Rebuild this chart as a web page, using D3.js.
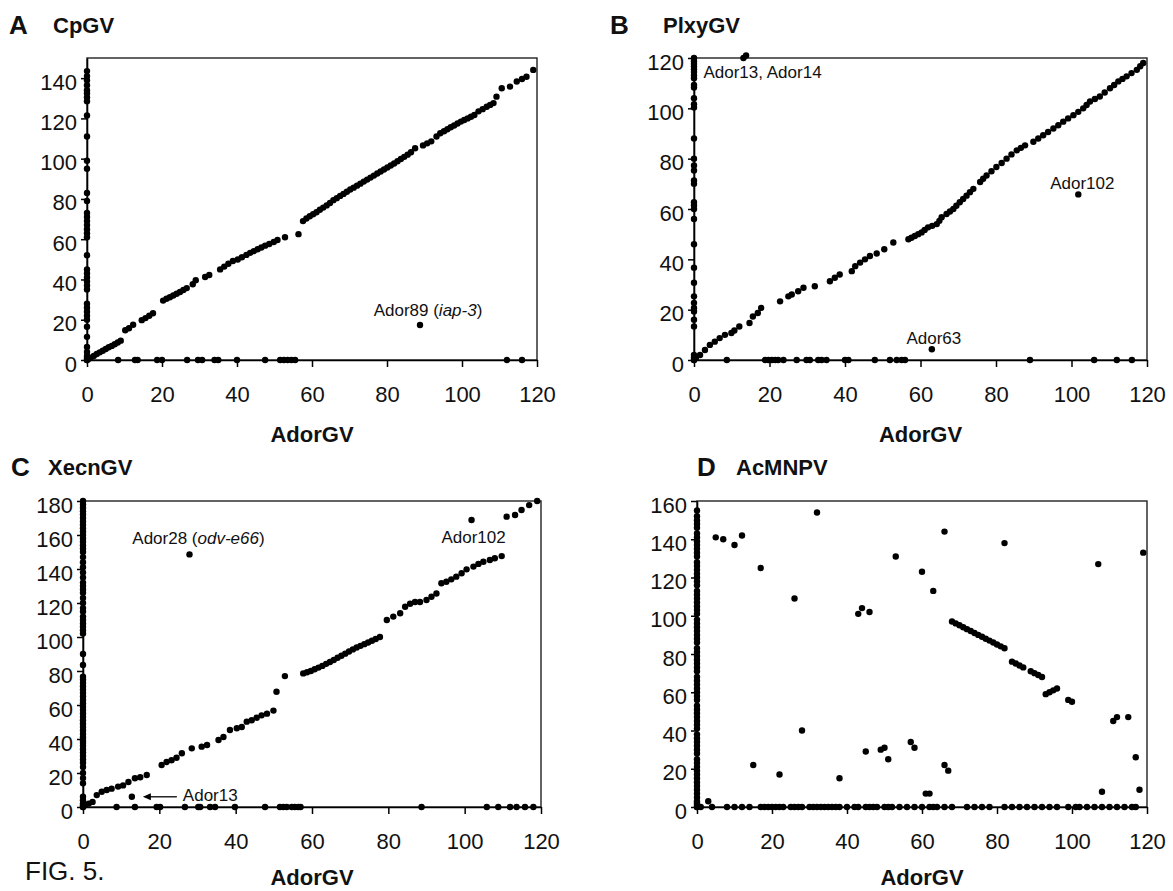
<!DOCTYPE html>
<html><head><meta charset="utf-8">
<script src="https://cdn.jsdelivr.net/npm/d3@7"></script>
<style>
body{margin:0;background:#fff}
text{font-family:"Liberation Sans",Arial,Helvetica,sans-serif;fill:#111}
</style>
</head><body>
<svg id="chart" width="1173" height="891"></svg>
<script>
// ---------- DATA ----------
const xTicks = [0, 20, 40, 60, 80, 100, 120];
const cpgvTicks = [0, 20, 40, 60, 80, 100, 120, 140];
const plxyTicks = [0, 20, 40, 60, 80, 100, 120];
const xecnTicks = [0, 20, 40, 60, 80, 100, 120, 140, 160, 180];
const acmnpvTicks = [0, 20, 40, 60, 80, 100, 120, 140, 160];

// Panel A: CpGV
const cpgvOnYAxis = [0, 1, 2, 4, 6.5, 11.5, 16.5, 20, 22, 24, 26, 28, 35, 37, 39, 41, 43, 45, 52, 61, 63, 65, 67, 69, 71, 73, 79, 83, 95, 99, 111, 121.5, 128.5, 130.5, 132.5, 134, 136.5, 139, 141, 143.5];
const cpgvOnXAxis = [0, 8.3, 12.8, 13.5, 18.7, 20, 26.7, 29.6, 30.7, 34, 35, 40, 47.5, 51.5, 52.5, 53.5, 54.5, 55.5, 112, 116];
const cpgvColinear = [[0.4,0.5],[1,1.2],[1.8,2],[2.6,3],[3.4,3.8],[4.2,4.6],[5,5.5],[5.8,6.3],[6.6,7],[7.4,7.8],[8.2,8.7],[9,9.6],
[10.2,14.8],[11.2,15.8],[12.3,17.5],[14.6,19.8],[15.6,20.8],[16.6,22],[17.6,23.2],
[20.3,29.5],[21.2,30.4],[22.1,31.2],[23,32],[23.9,32.9],[24.8,33.8],[25.7,34.8],[26.6,35.7],
[28.2,37.6],[29,39.6],[31.5,41.2],[32.6,42.2],[35.5,45],[36.6,46.4],[37.7,47.8],[38.9,49.2],[40.2,49.9],[41.3,51],[42.5,52.2],[43.5,53.2],[44.5,54.1],[45.5,55],[46.5,55.9],[47.5,56.8],[48.6,57.6],[49.8,58.6],[50.8,59.6],[52.8,61],[56.4,62.5],
[57.6,69],[58.5,70.3],[59.4,71.4],[60.3,72.4],[61.2,73.4],[62.1,74.6],[63,75.7],[63.9,76.8],[64.8,78],[65.7,79.4],[66.6,80.4],[67.5,81.5],[68.4,82.5],[69.3,83.6],[70.2,84.7],[71.1,85.6],[72,86.6],[72.9,87.6],[73.8,88.6],[74.7,89.6],[75.6,90.6],[76.5,91.6],[77.4,92.6],[78.3,93.6],[79.2,94.6],[80.1,95.6],[81,96.6],[81.9,97.6],[82.8,98.7],[83.7,99.8],[84.6,100.9],[85.5,102],[86.4,103.2],[87.5,105.2],
[89.6,106.6],[90.7,107.6],[91.8,108.6],[93.2,111],[94.2,112.6],[95.2,113.6],[96.1,114.6],[97,115.6],[97.9,116.5],[98.8,117.5],[99.7,118.4],[100.6,119.2],[101.5,120],[102.4,120.8],[103.3,121.7],[104.4,123.5],[105.5,124.6],[106.6,125.8],[107.5,126.7],[108.4,127.6],
[109.2,130.8],[110.6,135],[112.8,135.8],[114.6,138.3],[116,139.6],[117.2,140.7],[119,144.1]];
const cpgvOutliers = [[88.8, 17.4]];

// Panel B: PlxyGV
const plxyOnYAxis = [0, 1, 2, 13.3, 16, 19.3, 20.7, 22.7, 25.3, 30.7, 36.7, 46, 56, 60, 61.5, 62.7, 70, 71.3, 75.3, 77.3, 80, 88, 100.3, 101.6, 104, 108.3, 109.3, 112, 113, 114.4, 115.5, 116.7, 117.7, 118.7, 120];
const plxyOnXAxis = [0, 8.7, 18.8, 19.7, 20.6, 21.5, 22.3, 23.7, 27.2, 29.8, 30.7, 32.9, 33.8, 35.1, 40, 40.9, 47.9, 51.9, 53.7, 55, 55.9, 89, 106, 112, 116];
const plxyColinear = [[0.5,0.8],[1.6,2],[2.9,4],[4.2,6],[5.5,7.3],[6.8,8.7],[8.2,10],[9.9,10.7],[10.7,11.7],[12,13.3],[14.7,14.7],[15.6,17.3],[16.9,18.7],[17.8,20.7],[22.8,23.3],[25,25.3],[25.9,26],[27.6,27.3],[29,28.7],[32,29.3],[36,31.3],[37.3,32.7],[38.6,34],[41.8,35.3],[42.7,37.3],[44,38.7],[45.3,40],[46.6,41.3],[48.4,42.3],[50.4,44],[52.8,46.7],
[56.8,48],[57.6,48.6],[58.5,49.3],[59.4,50],[60.3,50.7],[61.1,51.7],[62,52.7],[63.1,53.3],[64.3,54],[65,55.3],[65.6,56.7],[66.9,58],[67.8,59],[68.7,60],[69.5,61.3],[70.4,62.7],[71.3,64],[72.2,65.3],[73.1,66.7],[74,68],[75.8,70.7],[76.6,72],[77.5,73.3],[78.8,75],[80.1,76.7],[81.5,78.3],[82.8,80],[84.1,81.7],[85.5,83.3],[86.6,84.3],[87.7,85.3],[89.9,86.7],[91.2,88],[92.5,89.3],[93.8,90.6],[95.2,92],[96.5,93.3],[97.8,94.7],[99.1,96],[100.5,97.3],[101.8,98.6],[103.1,100],[104,101.3],[104.9,102.7],[106.2,103.7],[107.5,104.7],[108.8,106.3],[110.2,108],[111.3,109.3],[112.4,110.7],[113.5,111.7],[114.6,112.7],[115.9,114],[117.3,115.3],[118.2,116.7],[119,118]];
const plxyOutliers = [[13.1, 120], [13.8, 121], [101.8, 65.8], [63, 4.3]];

// Panel C: XecnGV
const xecnOnYAxis = [0, 1, 2, 4, 6, 14, 17, 20, 23.5, 26, 28, 30, 32, 34, 36, 37.6, 39, 41, 43, 45, 47, 49, 51, 53, 55, 57, 59, 61, 63, 65, 67, 69, 71, 73, 75, 76.6, 83.5, 90, 102, 104, 106, 108, 110, 112, 115, 117, 120, 123, 126, 128, 130, 132, 135, 138, 141, 144, 147, 150, 152, 154, 156, 158, 160, 162, 164, 166, 168, 170, 172, 174, 176, 178, 180];
const xecnOnXAxis = [0, 8.8, 13.6, 19.3, 20.2, 26.7, 30.2, 30.7, 33.3, 34.6, 39.8, 47.7, 51.6, 52.5, 53.4, 54.7, 55.5, 56.4, 57, 88.7, 105.8, 108.8, 111.9, 113.6, 115.8, 118];
const xecnColinear = [[0.5,1],[1.5,2],[2.5,3],[3.6,7],[4.9,9],[6.2,10],[7.5,10.8],[9.2,12],[10.5,12.7],[11.9,14.7],[13.6,16.9],[15,17.5],[16.7,18.8],[20.6,24.7],[21.9,26.5],[23.2,27.5],[24.5,29],[25.9,31.6],[28.5,34.5],[31.1,35.5],[32.5,36.5],[35.5,39.4],[36.8,41.2],[38.5,45.3],[40.3,46.3],[41.6,47.1],[42.9,50.2],[44.2,51],[45.5,52.5],[46.8,53.9],[48.2,54.9],[49.9,56.7],[50.7,67.8],[52.9,77],
[57.7,78.6],[58.7,79.3],[59.7,80],[60.7,81],[61.7,82],[62.7,83],[63.7,84.2],[64.7,85.3],[65.7,86.5],[66.7,87.8],[67.7,89],[68.7,90.2],[69.7,91.5],[70.7,92.7],[71.7,93.8],[72.7,94.8],[73.7,95.8],[74.7,96.8],[75.7,97.8],[76.7,98.8],[77.8,100],
[79.6,110],[81.3,112],[83.1,114],[84.4,117.8],[85.7,119.6],[87,120.6],[88.3,120.6],[90,121.8],[91.3,123.7],[92.6,125.6],[93.9,131.6],[95.2,132.5],[96.5,133.9],[97.8,135.5],[99.2,137.5],[100.5,139.8],[102.3,141.4],[103.6,143],[104.9,144.3],[106.6,145.3],[107.9,146.3],[109.7,147.6],
[111,170.8],[113.2,171.8],[114.9,174.7],[116.9,177.6],[119,180]];
const xecnOutliers = [[27.9, 148.6], [101.8, 168.8], [12.8, 6]];

// Panel D: AcMNPV
const acmnpvOnYAxis = [0, 1, 2, 3, 5, 7, 9, 11, 13, 15, 17, 19, 21, 23, 25, 28, 30, 32, 34, 36, 38, 41, 43, 45, 47, 49, 51, 53, 56, 58, 60, 62, 64, 66, 68, 71, 73, 75, 77, 79, 81, 83, 86, 88, 90, 92, 94, 96, 98, 101, 103, 105, 107, 109, 111, 113, 116, 118, 120, 122, 124, 126, 128, 131, 133, 135, 137, 139, 141, 143, 146, 148, 150, 152, 155];
const acmnpvOnXAxis = [0, 1, 4, 8, 10, 12, 14, 17, 18, 19, 20, 21, 22, 23, 25, 26, 27, 28, 30, 31, 32, 33, 34, 35, 36, 37, 38, 40, 42, 43, 45, 46, 47, 48, 50, 51, 52, 54, 56, 58, 60, 62, 63, 64, 66, 68, 72, 74, 76, 78, 82, 84, 86, 88, 90, 92, 94, 96, 99, 101, 102, 104, 106, 108, 110, 112, 114, 116, 117];
const acmnpvScatter = [[3,3],[5,141],[7,140],[10,137],[12,142],[15,22],[17,125],[22,17],[26,109],[28,40],[32,154],[38,15],[43,101],[44,104],[46,102],[45,29],[49,30],[50,31],[51,25],[53,131],[57,34],[58,31],[60,123],[61,7],[62,7],[63,113],[66,144],[66,22],[67,19],[82,138],[107,127],[108,8],[111,45],[112,47],[115,47],[117,26],[118,9],[119,133],
[68,97],[69,96],[70,95],[71,94],[72,93],[73,92],[74,91],[75,90],[76,89],[77,88],[78,87],[79,86],[80,85],[81,84],[82,83],[84,76],[85,75],[86,74],[87,73],[89,71],[90,70],[91,69],[92,68],[93,59],[94,60],[95,61],[96,62],[99,56],[100,55]];

// ---------- LAYOUT ----------
const svg = d3.select("#chart");
const FONT = '"Liberation Sans",Arial,Helvetica,sans-serif';

function drawPanel(cfg) {
  const x = d3.scaleLinear().domain([0, 120]).range([cfg.left, cfg.right]);
  const y = d3.scaleLinear().domain([0, cfg.yMax]).range([cfg.bottom, cfg.top]);
  const g = svg.append("g");

  g.append("rect")
    .attr("x", cfg.left).attr("y", cfg.top)
    .attr("width", cfg.right - cfg.left).attr("height", cfg.bottom - cfg.top)
    .attr("fill", "none").attr("stroke", "#222").attr("stroke-width", 1.4);

  const xa = g.append("g").attr("transform", `translate(0,${cfg.bottom})`)
    .call(d3.axisBottom(x).tickValues(xTicks).tickSize(7).tickSizeOuter(0).tickPadding(19));
  const ya = g.append("g").attr("transform", `translate(${cfg.left},0)`)
    .call(d3.axisLeft(y).tickValues(cfg.yTicks).tickSize(6).tickSizeOuter(0).tickPadding(4));
  [xa, ya].forEach(a => {
    a.select(".domain").attr("stroke", "#000").attr("stroke-width", 1.6);
    a.selectAll(".tick line").attr("stroke", "#000").attr("stroke-width", 1.5);
    a.selectAll(".tick text").attr("font-size", 22).attr("font-family", FONT).attr("fill", "#111");
  });
  ya.selectAll(".tick text").attr("dy", "0.5em");

  const pts = [];
  cfg.onY.forEach(v => pts.push([0, v]));
  cfg.onX.forEach(v => pts.push([v, 0]));
  cfg.pairs.forEach(p => pts.push(p));
  cfg.outliers.forEach(p => pts.push(p));
  g.append("g").selectAll("circle").data(pts).join("circle")
    .attr("cx", d => x(d[0])).attr("cy", d => y(d[1])).attr("r", 3.2).attr("fill", "#000");

  g.append("text").attr("x", (cfg.left + cfg.right) / 2).attr("y", cfg.bottom + cfg.xTitleGap)
    .attr("text-anchor", "middle").attr("font-size", 22).attr("font-weight", "bold").text("AdorGV");

  g.append("text").attr("x", cfg.letterX).attr("y", cfg.titleY).attr("font-size", 26)
    .attr("font-weight", "bold").text(cfg.letter);
  g.append("text").attr("x", cfg.nameX).attr("y", cfg.titleY - 1).attr("font-size", 22)
    .attr("font-weight", "bold").text(cfg.name);

  (cfg.notes || []).forEach(n => {
    const p = n.point;
    const t = g.append("text").attr("x", x(p[0]) + n.dx).attr("y", y(p[1]) + n.dy)
      .attr("text-anchor", n.anchor || "middle").attr("font-size", 17);
    n.parts.forEach(part => {
      t.append("tspan").attr("font-style", part[1] ? "italic" : "normal").text(part[0]);
    });
    if (n.arrow) {
      const ax = x(p[0]), ay = y(p[1]);
      g.append("line").attr("x1", ax + 45).attr("y1", ay).attr("x2", ax + 14).attr("y2", ay)
        .attr("stroke", "#000").attr("stroke-width", 1.3);
      g.append("path").attr("d", `M${ax + 11},${ay} l8,-3.5 l0,7 z`).attr("fill", "#000");
    }
  });
}

drawPanel({ left: 87, right: 537, top: 58, bottom: 360, yMax: 150, yTicks: cpgvTicks, xTitleGap: 82,
  onY: cpgvOnYAxis, onX: cpgvOnXAxis, pairs: cpgvColinear, outliers: cpgvOutliers,
  letter: "A", letterX: 9, nameX: 53, titleY: 34, name: "CpGV",
  notes: [{ point: cpgvOutliers[0], dx: 8, dy: -9, parts: [["Ador89 (", 0], ["iap-3", 1], [")", 0]] }] });

drawPanel({ left: 694, right: 1147, top: 58, bottom: 360, yMax: 120, yTicks: plxyTicks, xTitleGap: 82,
  onY: plxyOnYAxis, onX: plxyOnXAxis, pairs: plxyColinear, outliers: plxyOutliers,
  letter: "B", letterX: 610, nameX: 663, titleY: 34, name: "PlxyGV",
  notes: [
    { point: plxyOutliers[0], dx: -40, dy: 20, anchor: "start", parts: [["Ador13, Ador14", 0]] },
    { point: plxyOutliers[2], dx: 4, dy: -5, parts: [["Ador102", 0]] },
    { point: plxyOutliers[3], dx: 2, dy: -5, parts: [["Ador63", 0]] }] });

drawPanel({ left: 83, right: 541, top: 501, bottom: 807, yMax: 180, yTicks: xecnTicks, xTitleGap: 78,
  onY: xecnOnYAxis, onX: xecnOnXAxis, pairs: xecnColinear, outliers: xecnOutliers,
  letter: "C", letterX: 11, nameX: 48, titleY: 476, name: "XecnGV",
  notes: [
    { point: xecnOutliers[0], dx: 9, dy: -10, parts: [["Ador28 (", 0], ["odv-e66", 1], [")", 0]] },
    { point: xecnOutliers[1], dx: 2, dy: 23, parts: [["Ador102", 0]] },
    { point: xecnOutliers[2], dx: 51, dy: 4, anchor: "start", arrow: true, parts: [["Ador13", 0]] }] });

drawPanel({ left: 697, right: 1147, top: 501, bottom: 807, yMax: 160, yTicks: acmnpvTicks, xTitleGap: 78,
  onY: acmnpvOnYAxis, onX: acmnpvOnXAxis, pairs: acmnpvScatter, outliers: [],
  letter: "D", letterX: 697, nameX: 736, titleY: 476, name: "AcMNPV", notes: [] });

svg.append("text").attr("x", 25).attr("y", 880).attr("font-size", 26).text("FIG. 5.");
</script>
</body></html>
